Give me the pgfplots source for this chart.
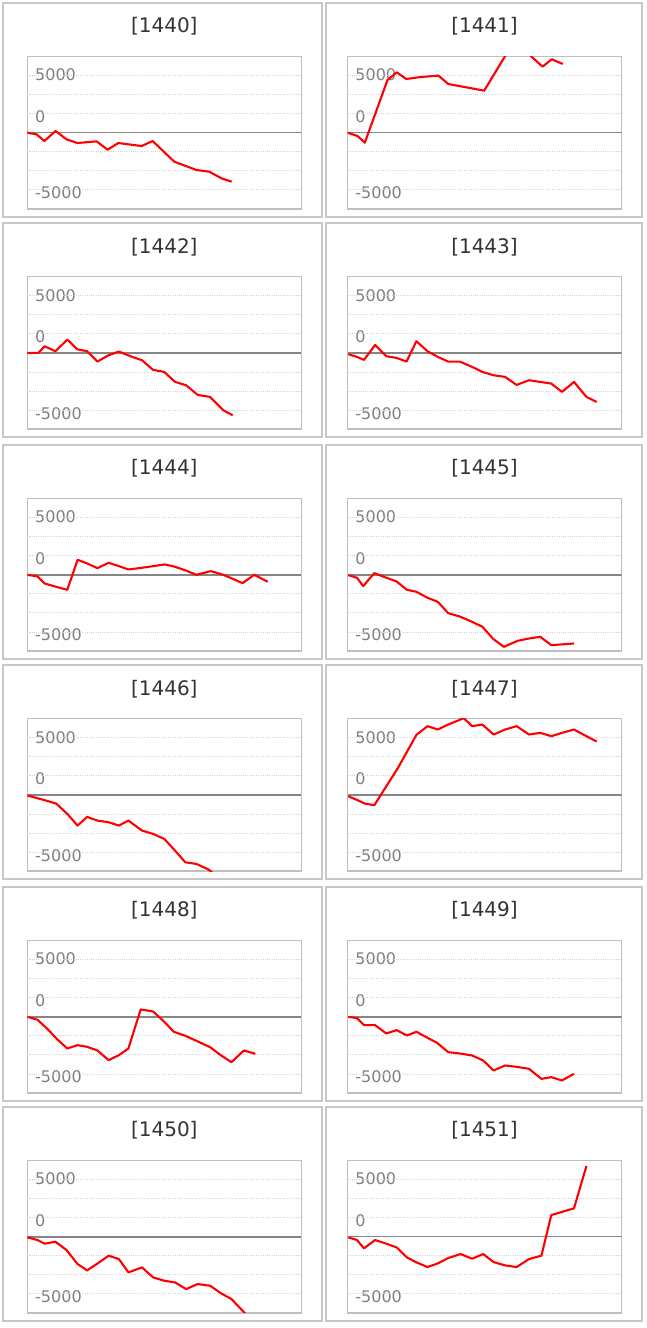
\documentclass[border=0pt]{standalone}
\usepackage{pgfplots}
\pgfplotsset{compat=1.18}
\usepackage{fontspec}
\setmainfont{DejaVu Sans}
\definecolor{boxcol}{HTML}{C8C8C8}
\definecolor{framecol}{HTML}{BFBFBF}
\definecolor{gridcol}{HTML}{D2D2D2}
\definecolor{zerocol}{HTML}{858585}
\definecolor{labcol}{HTML}{7F7F7F}
\definecolor{titlecol}{HTML}{333333}
\pgfplotsset{mini/.style={
  scale only axis, width=274pt, height=152.3pt,
  xmin=0, xmax=274, ymin=-10000, ymax=10000,
  xtick=\empty,
  ytick={7576,2153,-7918}, yticklabels={5000,0,-5000},
  major tick length=0pt,
  y tick label style={anchor=west, xshift=7.7pt, inner sep=0pt, font=\fontsize{16}{18}\selectfont, text=labcol},
  extra y ticks={-7500,-5000,-2500,2500,5000,7500},
  extra y tick labels={},
  extra y tick style={grid=major, major grid style={gridcol, line width=0.8pt, dash pattern=on 1pt off 1.2pt}},
  axis line style={framecol, line width=1.5pt},
  title style={font=\fontsize{20}{24}\selectfont, text=titlecol, at={(0.5,1)}, anchor=center, yshift=24pt, inner sep=0pt},
  scaled y ticks=false,
}}
\newcommand{\zeroline}{\addplot[zerocol, line width=1.6pt, forget plot] coordinates {(0,0) (274,0)};}
\tikzset{ser/.style={red, line width=2.1pt, line join=round}}
\begin{document}
\begin{tikzpicture}[x=1pt,y=1pt]
\path[use as bounding box, fill=white] (0pt,0pt) rectangle (647pt,1328pt);
\foreach \s in {132.7,352.9,574.8,794.9,1016.8,1236.7}{
  \draw[boxcol, line width=2pt] (3.3pt,{1243.4pt-\s pt}) rectangle (321.7pt,{1457.4pt-\s pt});
  \draw[boxcol, line width=2pt] (325.7pt,{1243.4pt-\s pt}) rectangle (642.3pt,{1457.4pt-\s pt});
}
% row 1
\begin{axis}[mini, at={(27.3pt,1119.15pt)}, anchor=south west, title={[1440]}]
\zeroline
\addplot[ser] coordinates {(0,0) (9.3,-219) (17,-1095) (28.3,219) (39.3,-876) (50,-1358) (69.3,-1139) (80.3,-2234) (91,-1358) (114.3,-1752) (125.3,-1095) (147,-3811) (169.3,-4906) (182,-5125) (194.3,-6001) (204.3,-6439)};
\end{axis}
\begin{axis}[mini, at={(347.5pt,1119.15pt)}, anchor=south west, title={[1441]}]
\zeroline
\addplot[ser] coordinates {(0,0) (10,-438) (17.3,-1314) (40,6920) (49.3,7928) (58.7,7052) (73.3,7315) (91,7490) (100.7,6395) (136.7,5519) (163.3,11300) (176.7,10862) (195,8672) (204.3,9636) (215.3,9023)};
\end{axis}
% row 2
\begin{axis}[mini, at={(27.3pt,898.95pt)}, anchor=south west, title={[1442]}]
\zeroline
\addplot[ser] coordinates {(0,0) (11.1,0) (17.3,876) (28.1,219) (40,1752) (49.9,482) (59.8,219) (70.1,-1139) (81.3,-307) (91.6,175) (103.1,-438) (114.7,-964) (125.8,-2234) (137,-2497) (147.7,-3811) (158.8,-4249) (170.4,-5519) (182.8,-5782) (196,-7534) (205.4,-8191)};
\end{axis}
\begin{axis}[mini, at={(347.5pt,898.95pt)}, anchor=south west, title={[1443]}]
\zeroline
\addplot[ser] coordinates {(0.8,-175) (9.5,-526) (16.5,-920) (27.6,1051) (38.8,-438) (49.1,-657) (59,-1139) (68.9,1533) (80,219) (90.3,-526) (100.7,-1139) (112.2,-1139) (124.6,-1840) (134.9,-2497) (146,-2935) (157.6,-3154) (169.1,-4205) (181.5,-3592) (192.7,-3811) (203.8,-4030) (214.5,-5125) (226.5,-3811) (238.9,-5782) (249.2,-6439)};
\end{axis}
% row 3
\begin{axis}[mini, at={(27.3pt,677.05pt)}, anchor=south west, title={[1444]}]
\zeroline
\addplot[ser] coordinates {(0,0) (10.3,-219) (17.3,-1139) (28.9,-1577) (40,-1971) (50.3,1971) (59.8,1489) (70.1,876) (81.3,1577) (91.6,1139) (101.1,701) (112.2,876) (123.8,1095) (137.4,1358) (146.5,1095) (157.6,613) (169.1,0) (183.6,482) (196,0) (215.3,-1095) (226.9,0) (240.5,-920)};
\end{axis}
\begin{axis}[mini, at={(347.5pt,677.05pt)}, anchor=south west, title={[1445]}]
\zeroline
\addplot[ser] coordinates {(0.8,-44) (9.5,-394) (15.7,-1489) (26.8,219) (38,-350) (49.1,-876) (59.4,-1971) (68.9,-2234) (80,-3023) (90.3,-3548) (100.7,-5037) (112.2,-5475) (124.6,-6176) (134.9,-6833) (146,-8453) (156.4,-9461) (170,-8672) (181.5,-8366) (192.7,-8147) (203.8,-9242) (226.5,-9023)};
\end{axis}
% row 4
\begin{axis}[mini, at={(27.3pt,456.95pt)}, anchor=south west, title={[1446]}]
\zeroline
\addplot[ser] coordinates {(0,-88) (10.3,-438) (18.6,-745) (28.9,-1139) (40,-2497) (50.3,-4030) (59.8,-2891) (70.1,-3373) (81.3,-3592) (91.6,-4030) (101.1,-3373) (114.7,-4687) (125.8,-5125) (137,-5782) (147.7,-7315) (158,-8848) (169.1,-9067) (181.5,-9811) (196,-11476)};
\end{axis}
\begin{axis}[mini, at={(347.5pt,456.95pt)}, anchor=south west, title={[1447]}]
\zeroline
\addplot[ser] coordinates {(0.8,-175) (9.5,-657) (17.3,-1139) (26.8,-1358) (50.3,3504) (68.9,7884) (80,9023) (90.3,8585) (100.7,9242) (116.3,10074) (124.6,9023) (134.9,9242) (146,7928) (157.6,8585) (169.1,9023) (181.5,7928) (192.7,8147) (203.8,7709) (214.5,8147) (226.5,8585) (238.9,7709) (249.2,7008)};
\end{axis}
% row 5
\begin{axis}[mini, at={(27.3pt,235.05pt)}, anchor=south west, title={[1448]}]
\zeroline
\addplot[ser] coordinates {(0,0) (10.3,-394) (20.6,-1664) (30.1,-2979) (40,-4161) (50.3,-3723) (59.8,-3942) (70.1,-4424) (81.3,-5694) (91.6,-5037) (101.1,-4161) (113.4,964) (125.8,701) (137,-657) (146.5,-1971) (158,-2497) (169.1,-3154) (182.8,-3986) (193.9,-5081) (204.2,-5957) (216.6,-4424) (228.1,-4862)};
\end{axis}
\begin{axis}[mini, at={(347.5pt,235.05pt)}, anchor=south west, title={[1449]}]
\zeroline
\addplot[ser] coordinates {(0.8,0) (9.5,-175) (16.5,-1095) (27.6,-1095) (38.8,-2190) (49.1,-1752) (59.4,-2453) (68.9,-1971) (80,-2759) (89.5,-3416) (100.7,-4643) (112.2,-4818) (124.6,-5081) (135.7,-5738) (146,-7052) (157.6,-6395) (169.1,-6570) (181.5,-6833) (193.9,-8147) (203.8,-7928) (214.5,-8366) (226.5,-7490)};
\end{axis}
% row 6
\begin{axis}[mini, at={(27.3pt,15.15pt)}, anchor=south west, title={[1450]}]
\zeroline
\addplot[ser] coordinates {(0,-88) (10.3,-438) (17.3,-920) (28.1,-657) (39.2,-1752) (50.3,-3592) (59.8,-4424) (70.9,-3460) (81.3,-2497) (91.6,-2935) (101.1,-4687) (114.7,-4030) (125.8,-5344) (137,-5782) (147.7,-6001) (158.8,-6877) (170.4,-6220) (182.8,-6439) (193.9,-7446) (204.2,-8191) (215.3,-9724) (222.8,-10819)};
\end{axis}
\begin{axis}[mini, at={(347.5pt,15.15pt)}, anchor=south west, title={[1451]}]
\zeroline
\addplot[ser] coordinates {(0.8,-88) (9.5,-438) (16.5,-1533) (27.6,-438) (38.8,-920) (49.1,-1402) (59.4,-2716) (68.9,-3373) (80,-3986) (90.3,-3504) (100.7,-2803) (113,-2278) (124.6,-2891) (135.7,-2278) (146,-3329) (157.6,-3767) (169.1,-3986) (181.5,-2935) (193.9,-2497) (203.8,2847) (226.5,3723) (238.9,9286)};
\end{axis}
\end{tikzpicture}
\end{document}
